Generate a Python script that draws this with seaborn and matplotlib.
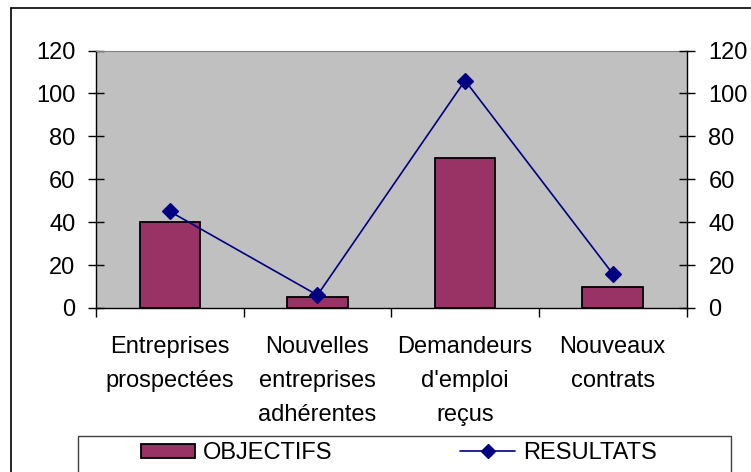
import pandas as pd
import seaborn as sns
import matplotlib.pyplot as plt
from matplotlib.patches import Patch, Rectangle
from matplotlib.lines import Line2D

# Chart data
categories = ['Entreprises\nprospectées', 'Nouvelles\nentreprises\nadhérentes',
              "Demandeurs\nd'emploi\nreçus", 'Nouveaux\ncontrats']
objectifs = [40, 5, 70, 10]
resultats = [45, 6, 106, 16]
y_ticks = [0, 20, 40, 60, 80, 100, 120]

df = pd.DataFrame({'categorie': categories, 'OBJECTIFS': objectifs, 'RESULTATS': resultats})

sns.set_style('white')
plt.rcParams['font.family'] = ['Liberation Sans', 'DejaVu Sans']
plt.rcParams['font.size'] = 17
plt.rcParams['text.color'] = 'black'
plt.rcParams['xtick.color'] = 'black'
plt.rcParams['ytick.color'] = 'black'
plt.rcParams['xtick.labelcolor'] = 'black'
plt.rcParams['ytick.labelcolor'] = 'black'

fig = plt.figure(figsize=(7.51, 4.72), dpi=100)
ax = fig.add_axes([96 / 751, 1 - 308 / 472, (686.5 - 96) / 751, (308 - 50.5) / 472])
ax.set_facecolor('#C0C0C0')

# bars
sns.barplot(data=df, x='categorie', y='OBJECTIFS', color='#993366', edgecolor='black',
            linewidth=1.3, width=0.41, saturation=1, ax=ax)
# line with diamonds
sns.pointplot(data=df, x='categorie', y='RESULTATS', color='#000080', markers='D',
              markersize=8, linewidth=1.2, ax=ax)

ax.set_ylim(0, 120)
ax.set_xlim(-0.5, len(categories) - 0.5)
ax.set_yticks(y_ticks)
ax.set_xlabel('')
ax.set_ylabel('')

# category labels centred, ticks on boundaries
ax.tick_params(axis='x', which='major', length=0, pad=20)
ax.set_xticks(range(len(categories)), labels=categories, linespacing=1.72)
ax.set_xticks([i - 0.5 for i in range(len(categories) + 1)], minor=True)
ax.tick_params(axis='x', which='minor', direction='out', length=6.5, width=1, color='black', bottom=True)
ax.tick_params(axis='y', direction='inout', length=11.5, width=1, color='black', left=True, pad=9)

for side in ['left', 'bottom']:
    ax.spines[side].set_color('black')
    ax.spines[side].set_linewidth(1)
ax.spines['top'].set_color('#808080')
ax.spines['right'].set_visible(False)

# secondary axis on the right
ax2 = ax.twinx()
ax2.set_ylim(0, 120)
ax2.set_yticks(y_ticks)
ax2.tick_params(axis='y', direction='inout', length=11.5, width=1, color='black', right=True, pad=10)
for side in ['left', 'top', 'bottom']:
    ax2.spines[side].set_visible(False)
ax2.spines['right'].set_color('black')
ax2.spines['right'].set_linewidth(1)

# chart area frame (only left and top are inside the picture)
fig.add_artist(Line2D([11 / 751, 11 / 751], [0, 1 - 8 / 472], color='black', lw=1.2))
fig.add_artist(Line2D([11 / 751, 1], [1 - 8 / 472, 1 - 8 / 472], color='black', lw=1.2))

# legend box
fig.add_artist(Rectangle((78 / 751, -0.1), (731 - 78) / 751, 0.1 + 36 / 472,
                         transform=fig.transFigure, facecolor='none',
                         edgecolor='#404040', lw=1, clip_on=False))
handles = [Patch(facecolor='#993366', edgecolor='black', linewidth=1.3),
           Line2D([], [], color='#000080', marker='D', markersize=7, linewidth=1.2)]
fig.legend(handles, ['OBJECTIFS', 'RESULTATS'], loc='center left',
           bbox_to_anchor=(129 / 751, 1 - 453 / 472), ncol=2, frameon=False,
           borderpad=0, handlelength=2.3, handleheight=0.55, handletextpad=0.35,
           columnspacing=5.4, fontsize=17)

fig.savefig('out.png', dpi=100)
